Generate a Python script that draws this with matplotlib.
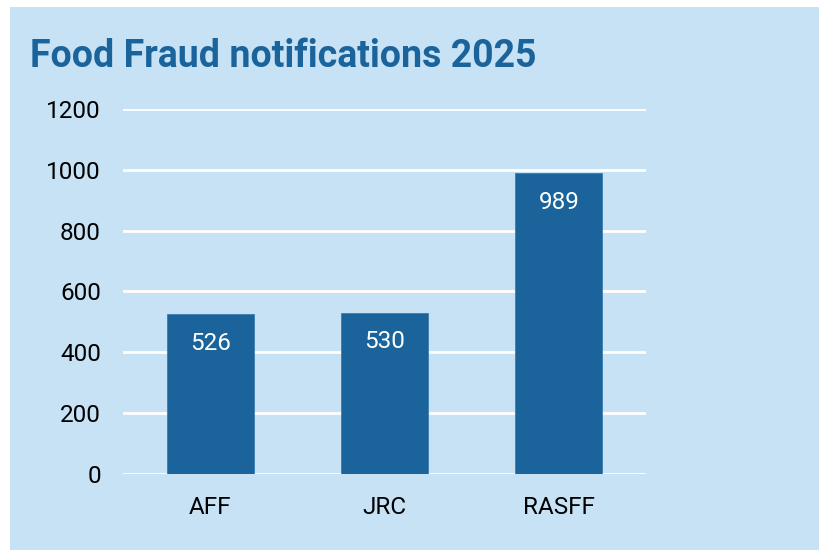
import matplotlib
matplotlib.use("Agg")
import matplotlib.pyplot as plt
from matplotlib.patches import Rectangle

categories = ["AFF", "JRC", "RASFF"]
values = [526, 530, 989]
yticks = [0, 200, 400, 600, 800, 1000, 1200]
title = "Food Fraud notifications 2025"

BG = "#c7e1f5"
BAR = "#1b649b"

plt.rcParams['font.family'] = ['Roboto', 'DejaVu Sans']

fig = plt.figure(figsize=(8.2, 5.5), dpi=100)
fig.patch.set_facecolor("white")
fig.patches.append(Rectangle((10/820, 0), 1.0, 1 - 7/550, transform=fig.transFigure,
                             facecolor=BG, edgecolor="none", zorder=-10))

ax = fig.add_axes([123/820, 1 - 474/550, (646 - 123)/820, (474 - 109)/550])
ax.set_zorder(5)
ax.set_facecolor("none")
x = range(len(categories))
bars = ax.bar(x, values, width=0.5, color=BAR, edgecolor="#3a7db0", linewidth=0.6, zorder=3)
ax.set_xlim(-0.5, len(categories) - 0.5)
ax.set_ylim(0, 1200)
ax.set_yticks(yticks)
ax.set_yticklabels([str(v) for v in yticks])
ax.set_xticks(list(x))
ax.set_xticklabels(categories)
ax.grid(axis='y', color='white', linewidth=2, zorder=1)
ax.set_axisbelow(True)
for s in ax.spines.values():
    s.set_visible(False)
ax.tick_params(axis='y', length=0, pad=16, labelsize=17.5, labelcolor='black')
ax.tick_params(axis='x', length=0, pad=16, labelsize=17.5, labelcolor='black')

for b, v in zip(bars, values):
    ax.annotate(str(v), (b.get_x() + b.get_width()/2, v), xytext=(0, -21),
                textcoords='offset points', ha='center', va='center',
                color='white', fontsize=17.5, zorder=4)

fig.text(30/820, 1 - 67/550, title, fontsize=27, fontweight='bold', color=BAR,
         ha='left', va='baseline')

fig.savefig("out.png", dpi=100, facecolor=fig.get_facecolor())
